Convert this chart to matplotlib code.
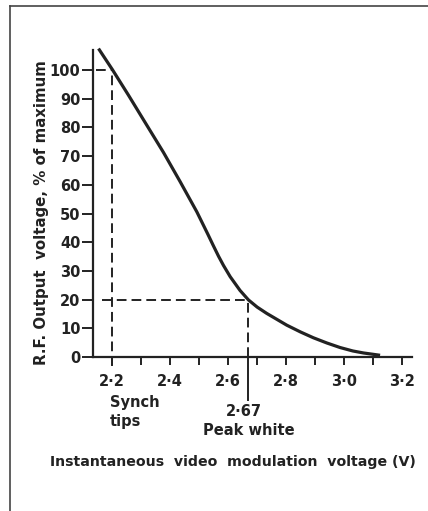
import matplotlib
matplotlib.use("Agg")
import matplotlib.pyplot as plt
from matplotlib.lines import Line2D

# ---- data ----
curve_v = [2.153, 2.200, 2.256, 2.314, 2.377, 2.434, 2.492, 2.530, 2.549, 2.567,
           2.584, 2.607, 2.641, 2.670, 2.700, 2.733, 2.802, 2.850, 2.894, 2.940,
           2.986, 3.030, 3.067, 3.124]
curve_pct = [107.5, 100.3, 91.3, 81.7, 71.3, 61.2, 50.6, 42.8, 38.8, 35.1,
             31.9, 28.0, 23.2, 19.9, 17.4, 15.2, 11.1, 8.7, 6.7, 4.9,
             3.3, 2.1, 1.4, 0.6]

x_ticks = [2.2, 2.4, 2.6, 2.8, 3.0, 3.2]
x_tick_labels = ["2\u00b72", "2\u00b74", "2\u00b76", "2\u00b78", "3\u00b70", "3\u00b72"]
x_minor = [2.2, 2.3, 2.4, 2.5, 2.6, 2.7, 2.8, 2.9, 3.0, 3.1, 3.2]
y_ticks = [0, 10, 20, 30, 40, 50, 60, 70, 80, 90, 100]
y_tick_labels = [str(v) for v in y_ticks]

synch_v, synch_pct = 2.2, 100
peak_v, peak_pct = 2.67, 20

xlim = (2.134, 3.234)
ylim = (0, 107)

W, H = 428, 511
fig = plt.figure(figsize=(W / 100, H / 100), dpi=100)
fig.patch.set_facecolor("white")

FONT = "DejaVu Sans"
ink = "#222222"

ax = fig.add_axes([93 / W, 1 - 357 / H, (412 - 93) / W, (357 - 50) / H])
ax.set_xlim(*xlim)
ax.set_ylim(*ylim)
for s in ("top", "right"):
    ax.spines[s].set_visible(False)
for s in ("left", "bottom"):
    ax.spines[s].set_linewidth(1.6)
    ax.spines[s].set_color(ink)

ax.set_xticks(x_minor)
ax.set_xticklabels([])
ax.tick_params(axis="x", direction="out", length=6, width=1.4, color=ink)
ax.set_yticks(y_ticks)
ax.set_yticklabels(y_tick_labels, fontsize=10.5, fontweight="bold",
                   family=FONT, color=ink)
ax.tick_params(axis="y", direction="out", length=8, width=1.4, color=ink, pad=1)

for v, lab in zip(x_ticks, x_tick_labels):
    ax.text(v, -8.6, lab, ha="center", va="center", fontsize=10.5,
            fontweight="bold", family=FONT, color=ink)

ax.plot(curve_v, curve_pct, color=ink, lw=2.3, solid_capstyle="butt",
        solid_joinstyle="round", clip_on=False)

dash = (0, (5, 2.6))
ax.plot([synch_v, synch_v], [-3, synch_pct], color=ink, lw=1.4, ls=dash,
        clip_on=False)
ax.plot([xlim[0] + 0.01, synch_v], [synch_pct, synch_pct], color=ink, lw=1.4,
        ls=dash)
ax.plot([xlim[0] + 0.03, peak_v], [peak_pct, peak_pct], color=ink, lw=1.4,
        ls=dash)
ax.plot([peak_v, peak_v], [0, peak_pct], color=ink, lw=1.4, ls=dash)
ax.plot([peak_v, peak_v], [0, -15], color=ink, lw=1.4, clip_on=False)

ax.text(2.193, -19.2, "Synch\ntips", ha="left", va="center", fontsize=10.5,
        fontweight="bold", family=FONT, color=ink, linespacing=1.35)
ax.text(peak_v - 0.015, -19, "2\u00b767", ha="center", va="center",
        fontsize=10.5, fontweight="bold", family=FONT, color=ink)
ax.text(peak_v + 0.003, -25.5, "Peak white", ha="center", va="center",
        fontsize=10.5, fontweight="bold", family=FONT, color=ink)

fig.text(233 / W, 1 - 462 / H, "Instantaneous  video  modulation  voltage (V)",
         ha="center", va="center", fontsize=10.2, fontweight="bold",
         family=FONT, color=ink)
fig.text(42 / W, 1 - 213 / H, "R.F. Output  voltage, % of maximum",
         ha="center", va="center", rotation=90, fontsize=10.8,
         fontweight="bold", family=FONT, color=ink)

# frame lines of the scanned page
fig.add_artist(Line2D([10 / W, 1], [1 - 6 / H, 1 - 6 / H], transform=fig.transFigure,
                      color="#444444", lw=1.2))
fig.add_artist(Line2D([10 / W, 10 / W], [0, 1 - 6 / H], transform=fig.transFigure,
                      color="#444444", lw=1.2))

fig.savefig("out.png", dpi=100, facecolor="white")
